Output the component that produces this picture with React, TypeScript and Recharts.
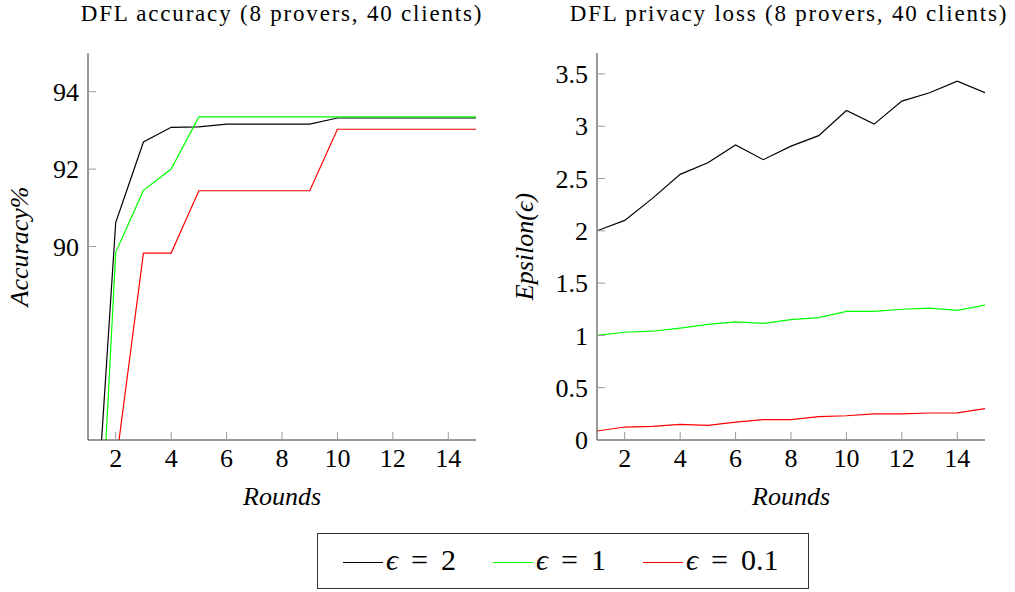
import React from 'react';
import { LineChart, Line, XAxis, YAxis, Label } from 'recharts';

// Training rounds on the x axis
const rounds = [1, 2, 3, 4, 5, 6, 7, 8, 9, 10, 11, 12, 13, 14, 15];
const roundTicks = [2, 4, 6, 8, 10, 12, 14];

// DFL accuracy (%) per round for each privacy budget
const accuracyEps2 = [79.6, 90.62, 92.7, 93.08, 93.09, 93.16, 93.16, 93.16, 93.16, 93.32, 93.32, 93.32, 93.32, 93.32, 93.32];
const accuracyEps1 = [76.0, 89.85, 91.45, 92.0, 93.35, 93.35, 93.35, 93.35, 93.35, 93.35, 93.35, 93.35, 93.35, 93.35, 93.35];
const accuracyEps01 = [72.0, 84.34, 89.83, 89.83, 91.44, 91.44, 91.44, 91.44, 91.44, 93.03, 93.03, 93.03, 93.03, 93.03, 93.03];
const accuracyTicks = [90, 92, 94];
const accuracyDomain = [85, 95];

// Accumulated privacy loss (epsilon) per round for each privacy budget
const privacyEps2 = [2.0, 2.1, 2.31, 2.54, 2.65, 2.82, 2.68, 2.81, 2.91, 3.15, 3.02, 3.24, 3.32, 3.43, 3.32];
const privacyEps1 = [1.0, 1.03, 1.04, 1.07, 1.105, 1.13, 1.115, 1.15, 1.17, 1.23, 1.23, 1.25, 1.26, 1.24, 1.29];
const privacyEps01 = [0.086, 0.124, 0.13, 0.15, 0.14, 0.17, 0.195, 0.195, 0.223, 0.232, 0.25, 0.25, 0.258, 0.26, 0.3];
const epsilonTicks = [0, 0.5, 1, 1.5, 2, 2.5, 3, 3.5];
const epsilonDomain = [0, 3.7];

// Series shared by both panels
const seriesKeys = ['eps2', 'eps1', 'eps01'];
const seriesSymbol = 'ϵ';
const seriesBudgets = ['2', '1', '0.1'];
const seriesNames = seriesBudgets.map((b) => `${seriesSymbol} = ${b}`);
const seriesColors = ['#000000', '#00ff00', '#ff0000'];

const titles = ['DFL accuracy (8 provers, 40 clients)', 'DFL privacy loss (8 provers, 40 clients)'];

const accuracyData = rounds.map((round, i) => ({
  round,
  eps2: accuracyEps2[i],
  eps1: accuracyEps1[i],
  eps01: accuracyEps01[i],
}));

const privacyData = rounds.map((round, i) => ({
  round,
  eps2: privacyEps2[i],
  eps1: privacyEps1[i],
  eps01: privacyEps01[i],
}));

const FONT = "'Liberation Serif', 'Times New Roman', Tinos, 'DejaVu Serif', serif";
const AXIS_COLOR = '#333333';
const TICK_COLOR = '#9a9a9a';

const tickStyle = { fill: '#000', fontSize: 26, fontFamily: FONT };

// Rotated y-axis caption, baseline placed `shift` px right of the axis box start
const verticalLabel = (text: string, shift: number) => (props: any) => {
  const vb = props.viewBox || {};
  const x = vb.x + shift;
  const y = vb.y + vb.height / 2;
  return (
    <text
      transform={`translate(${x},${y}) rotate(-90)`}
      textAnchor="middle"
      fontFamily={FONT}
      fontStyle="italic"
      fontSize={26}
      fill="#000"
    >
      {text}
    </text>
  );
};

// Italic x-axis caption, baseline `drop` px below the plot bottom
const horizontalLabel = (text: string, drop: number) => (props: any) => {
  const vb = props.viewBox || {};
  const x = vb.x + vb.width / 2;
  const y = vb.y + drop;
  return (
    <text x={x} y={y} textAnchor="middle" fontFamily={FONT} fontStyle="italic" fontSize={26} fill="#000">
      {text}
    </text>
  );
};

type PanelProps = {
  data: any[];
  width: number;
  margin: { top: number; right: number; bottom: number; left: number };
  yDomain: number[];
  yTicks: number[];
  yLabel: string;
  yLabelShift: number;
};

function Panel({ data, width, margin, yDomain, yTicks, yLabel, yLabelShift }: PanelProps) {
  return (
    <LineChart width={width} height={520} data={data} margin={margin}>
      <XAxis
        type="number"
        dataKey="round"
        domain={[1, 15]}
        ticks={roundTicks}
        allowDataOverflow
        height={70}
        tickSize={-8}
        tickMargin={17}
        tick={tickStyle}
        tickLine={{ stroke: TICK_COLOR }}
        axisLine={{ stroke: AXIS_COLOR }}
      >
        <Label content={horizontalLabel('Rounds', 65)} />
      </XAxis>
      <XAxis
        xAxisId="top"
        orientation="top"
        type="number"
        dataKey="round"
        domain={[1, 15]}
        ticks={roundTicks}
        allowDataOverflow
        height={0}
        tickSize={-8}
        tick={false}
        tickLine={{ stroke: TICK_COLOR }}
        axisLine={{ stroke: AXIS_COLOR }}
      />
      <YAxis
        type="number"
        domain={yDomain}
        ticks={yTicks}
        allowDataOverflow
        width={70}
        tickSize={-8}
        tickMargin={17}
        tick={tickStyle}
        tickLine={{ stroke: TICK_COLOR }}
        axisLine={{ stroke: AXIS_COLOR }}
      >
        <Label content={verticalLabel(yLabel, yLabelShift)} />
      </YAxis>
      <YAxis
        yAxisId="right"
        orientation="right"
        type="number"
        domain={yDomain}
        allowDataOverflow
        width={0}
        tick={false}
        tickLine={false}
        axisLine={{ stroke: AXIS_COLOR }}
      />
      {seriesKeys.map((key, i) => (
        <Line
          key={key}
          type="linear"
          dataKey={key}
          name={seriesNames[i]}
          stroke={seriesColors[i]}
          strokeWidth={1.2}
          dot={false}
          activeDot={false}
          isAnimationActive={false}
        />
      ))}
    </LineChart>
  );
}

const titleStyle: React.CSSProperties = {
  position: 'absolute',
  top: 2,
  width: 460,
  textAlign: 'center',
  fontFamily: FONT,
  fontSize: 23,
  lineHeight: '23px',
  letterSpacing: 1.8,
  whiteSpace: 'nowrap',
  color: '#000',
};

const legendText: React.CSSProperties = {
  position: 'absolute',
  top: 9,
  fontFamily: FONT,
  fontSize: 30,
  lineHeight: '34px',
  whiteSpace: 'nowrap',
  color: '#000',
};

export default function App() {
  return (
    <div style={{ position: 'absolute', left: 0, top: 0, width: 1015, height: 592, background: '#fff', overflow: 'hidden' }}>
      <div style={{ ...titleStyle, left: 282 - 230 }}>{titles[0]}</div>
      <div style={{ ...titleStyle, left: 789 - 230 }}>{titles[1]}</div>

      <div style={{ position: 'absolute', left: 0, top: 0 }}>
        <Panel
          data={accuracyData}
          width={500}
          margin={{ top: 53, right: 24, bottom: 10, left: 18 }}
          yDomain={accuracyDomain}
          yTicks={accuracyTicks}
          yLabel="Accuracy%"
          yLabelShift={10}
        />
      </div>
      <div style={{ position: 'absolute', left: 500, top: 0 }}>
        <Panel
          data={privacyData}
          width={515}
          margin={{ top: 53, right: 30, bottom: 10, left: 27 }}
          yDomain={epsilonDomain}
          yTicks={epsilonTicks}
          yLabel="Epsilon(ϵ)"
          yLabelShift={6}
        />
      </div>

      {/* Shared legend */}
      <div
        style={{
          position: 'absolute',
          left: 317,
          top: 533,
          width: 492,
          height: 56,
          boxSizing: 'border-box',
          border: `1px solid ${AXIS_COLOR}`,
          background: '#fff',
        }}
      >
        {seriesBudgets.map((budget, i) => (
          <React.Fragment key={budget}>
            <div
              style={{
                position: 'absolute',
                left: 25 + i * 150,
                top: 27.5,
                width: 40,
                borderTop: `1.2px solid ${seriesColors[i]}`,
              }}
            />
            <div style={{ ...legendText, left: 68 + i * 150 }}>
              <i>{seriesSymbol}</i>
              <span style={{ margin: '0 13px' }}>=</span>
              <span>{budget}</span>
            </div>
          </React.Fragment>
        ))}
      </div>
    </div>
  );
}
